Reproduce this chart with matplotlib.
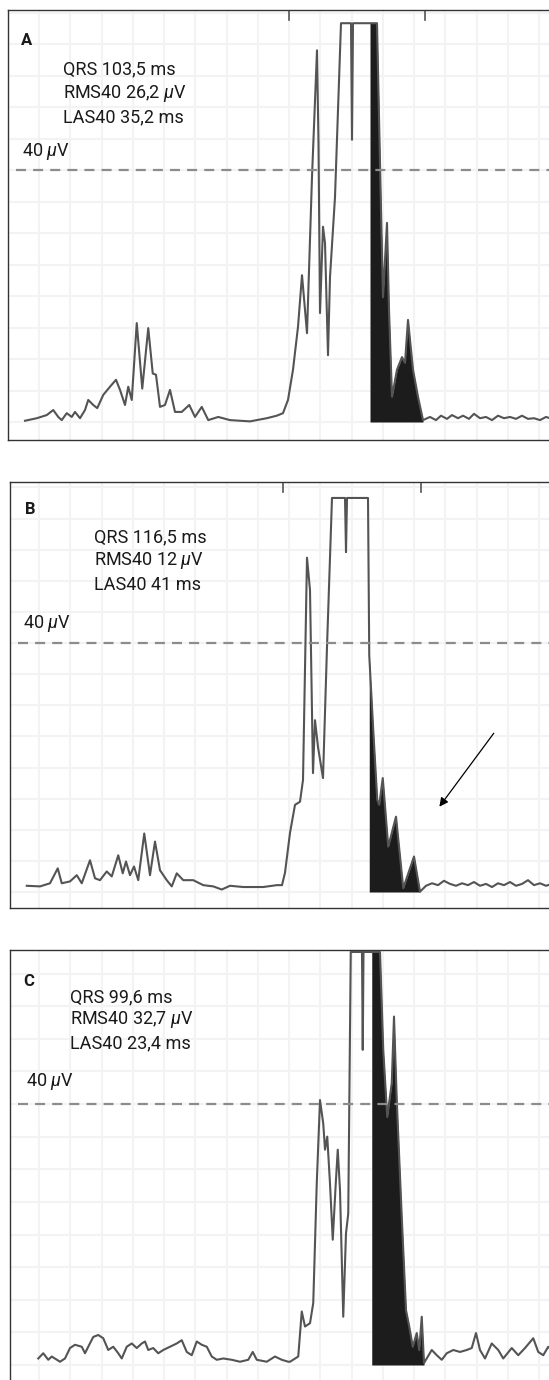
import matplotlib
matplotlib.use('Agg')
import matplotlib.pyplot as plt
import numpy as np
from matplotlib.ticker import MultipleLocator

plt.rcParams['font.family'] = ['Roboto', 'DejaVu Sans']
plt.rcParams['mathtext.fontset'] = 'custom'
plt.rcParams['mathtext.it'] = 'Roboto:italic'
plt.rcParams['mathtext.rm'] = 'Roboto'

# ---------------- data (time in ms, amplitude in microvolts) ----------------
CLIP = 63.3
THRESH = 40

a_t = [13.6, 23.0, 31.0, 36.2, 40.2, 43.0, 47.0, 51.0, 53.6, 57.6,
       61.6, 64.2, 68.2, 71.4, 76.2, 81.6, 86.4, 89.6, 93.6, 96.2,
       99.0, 103.0, 107.4, 112.2, 115.8, 118.4, 121.6, 125.6, 129.6, 133.6,
       139.0, 145.0, 149.6, 155.0, 160.2, 168.2, 177.6, 193.6, 207.0, 215.0, 220.0,
       224.0, 228.0, 232.0, 235.2, 237.6, 239.2, 243.2, 247.2, 248.4, 249.6,
       252.0, 253.6, 256.0, 257.6, 261.6, 264.0, 266.4, 274.4, 275.2, 276.0,
       295.2, 298.4, 300.0, 303.2, 304.8, 307.2, 311.2, 315.2, 317.6, 320.0,
       324.0, 328.0, 332.0,
       337.6, 342.4, 346.4, 351.2, 355.2, 360.0, 364.0, 368.8, 372.8, 377.6,
       382.4, 387.2, 392.0, 396.8, 401.6, 406.4, 411.2, 416.0, 420.8, 425.6, 430.4, 435.2]
a_v = [0.2, 0.6, 1.1, 1.9, 0.8, 0.3, 1.4, 0.8, 1.6, 0.6,
       1.9, 3.5, 2.7, 2.2, 4.3, 5.6, 6.7, 5.1, 2.7, 5.6,
       3.5, 15.7, 5.3, 14.9, 7.7, 7.5, 2.4, 2.7, 5.1, 1.6,
       1.6, 2.7, 0.8, 2.4, 0.3, 0.8, 0.3, 0.1, 0.6, 1.0, 1.4,
       3.5, 8.3, 15.1, 23.3, 17.8, 14.1, 38.9, 59.0, 44.3, 17.3,
       31.0, 28.4, 10.6, 23.0, 35.7, 49.5, 63.3, 63.3, 44.8, 63.3,
       63.3, 33.7, 19.8, 31.6, 17.8, 4.0, 8.3, 10.3, 9.4, 16.2,
       8.3, 4.0, 0.3,
       0.8, 0.3, 1.0, 0.5, 1.1, 0.6, 1.0, 0.5, 1.3, 0.6,
       0.8, 0.3, 1.0, 0.6, 0.8, 0.5, 1.0, 0.5, 0.6, 0.3, 0.8, 0.5]

b_t = [15.0, 25.6, 33.6, 39.8, 43.0, 49.6, 55.0, 59.0, 65.6, 69.6,
       73.6, 79.0, 83.0, 88.2, 91.8, 94.4, 97.6, 100.8, 104.2, 109.0,
       113.6, 117.6, 121.6, 127.0, 131.0, 135.0, 140.2, 148.2, 156.2, 164.2,
       171.0, 177.6, 188.2, 204.2, 215.0,
       219.2, 221.6, 225.6, 229.6, 233.6, 236.0, 239.2, 241.6, 244.0, 245.6,
       248.0, 252.0, 255.2, 259.2, 269.6, 270.4, 271.2, 288.0, 289.0, 292.2,
       295.4, 297.0, 299.8, 304.2, 310.4, 316.2, 324.8, 329.6,
       334.4, 339.2, 344.0, 348.8, 353.6, 358.4, 363.2, 368.0, 372.8, 377.6,
       382.4, 387.2, 392.0, 396.8, 401.6, 406.4, 411.2, 416.0, 420.8, 425.6, 430.4, 435.2]
b_v = [1.0, 0.9, 1.4, 3.8, 1.4, 1.7, 2.7, 1.4, 5.1, 2.2,
       1.9, 3.3, 2.5, 5.9, 3.0, 4.9, 2.7, 4.1, 1.9, 9.4,
       2.7, 8.1, 3.5, 1.9, 0.9, 3.0, 1.9, 1.9, 1.1, 0.9,
       0.4, 1.0, 0.8, 0.8, 1.1,
       1.1, 3.1, 9.5, 14.0, 14.5, 18.0, 53.7, 48.5, 19.1, 27.6,
       23.3, 18.3, 39.4, 63.3, 63.3, 54.6, 63.3, 63.3, 38.0, 26.0,
       14.8, 14.0, 18.3, 7.3, 12.1, 0.6, 5.7, 0.05,
       1.0, 1.4, 1.1, 1.8, 1.3, 1.0, 1.4, 1.1, 1.6, 1.0,
       1.3, 0.8, 1.4, 1.1, 1.6, 1.0, 1.3, 1.9, 1.1, 1.4, 1.0, 1.3]

c_t = [24.2, 28.2, 32.2, 35.0, 41.6, 45.6, 49.6, 53.6, 59.0, 61.6,
       64.2, 68.2, 72.2, 76.2, 80.2, 84.2, 88.2, 91.0, 95.0, 99.0,
       103.0, 107.0, 109.6, 112.2, 116.2, 120.2, 124.2, 129.6, 135.0, 139.0,
       143.0, 147.0, 151.0, 155.0, 159.0, 163.0, 167.0, 172.2, 179.0, 185.6,
       192.2, 195.8, 199.0, 207.0, 213.6, 219.0, 224.2,
       225.6, 232.2, 235.0, 237.6, 241.6, 244.2, 247.0, 249.6, 252.2, 253.6,
       255.4, 257.6, 259.8, 262.2, 263.8, 265.6, 268.2, 270.4, 272.2, 274.2,
       283.2, 283.8, 284.4, 297.6, 300.2, 303.4, 307.0, 308.8, 311.0, 315.0,
       318.4, 321.0, 323.8, 327.0, 329.0, 331.0, 332.8,
       339.0, 343.0, 347.0, 351.0, 356.2, 361.6, 367.0, 371.0, 374.4, 377.6,
       381.6, 387.0, 392.2, 396.2, 403.0, 408.2, 413.6, 420.2, 424.2, 428.2, 432.2, 437.0]
c_v = [1.0, 1.8, 0.8, 1.3, 0.5, 1.0, 2.6, 3.1, 2.8, 1.8,
       2.8, 4.3, 4.6, 4.1, 2.3, 2.8, 1.8, 1.0, 2.8, 3.3,
       2.6, 3.3, 3.6, 2.3, 2.6, 1.8, 2.3, 2.8, 3.3, 3.8,
       2.0, 1.5, 3.6, 3.1, 2.8, 1.3, 0.8, 1.0, 0.8, 0.5,
       0.8, 2.0, 0.8, 0.5, 1.3, 0.8, 0.5,
       0.5, 1.3, 8.2, 5.9, 6.4, 9.5, 27.8, 40.6, 37.0, 33.0,
       35.0, 27.8, 19.2, 27.8, 33.0, 26.8, 7.4, 20.2, 23.2, 63.3,
       63.3, 48.3, 63.3, 63.3, 48.3, 38.0, 43.2, 53.4, 40.6, 22.7,
       8.4, 5.9, 2.8, 4.9, 2.3, 7.4, 0.3,
       2.3, 1.5, 0.8, 1.8, 2.3, 2.0, 2.3, 2.6, 4.9, 2.3,
       1.0, 3.3, 2.3, 1.0, 2.6, 1.5, 2.6, 4.1, 2.0, 1.5, 2.8, 1.8]

labels = ['A', 'B', 'C']
qrs_text = ['QRS 103,5 ms', 'QRS 116,5 ms', 'QRS 99,6 ms']
rms_text = ['RMS40 26,2 $\\mathit{\\mu}$V', 'RMS40 12 $\\mathit{\\mu}$V', 'RMS40 32,7 $\\mathit{\\mu}$V']
las_text = ['LAS40 35,2 ms', 'LAS40 41 ms', 'LAS40 23,4 ms']
las_start = [289.6, 289.0, 291.0]
qrs_end = [332.0, 329.6, 332.8]
qrs_marks = [[224.8, 333.6], [220.0, 330.4], []]

# ---------------- layout (pixel boxes of the three panels) ----------------
W, H = 549, 1380
fig = plt.figure(figsize=(W / 100, H / 100), dpi=100)

panels = [
    # left, top, right, bottom (px), baseline px, px per uV
    dict(box=(8, 10, 551, 440), base=422, scale=6.3, t=a_t, v=a_v),
    dict(box=(10, 482, 551, 908), base=892, scale=6.225, t=b_t, v=b_v),
    dict(box=(10, 950, 551, 1395), base=1365, scale=6.525, t=c_t, v=c_v),
]
text_pos = [
    dict(lab=(10.4, 60.5), txt=(44.0, [55.9, 52.2, 48.4]), th=(11.2, 42.9)),
    dict(lab=(13.2, 61.5), txt=(69.2, [57.0, 53.2, 49.3]), th=(12.0, 43.1)),
    dict(lab=(12.0, 58.7), txt=(49.6, [56.4, 52.9, 49.3]), th=(14.4, 43.4)),
]

TRACE = '#545454'
FILL = '#1c1c1c'
TXT = '#1a1a1a'

for i, p in enumerate(panels):
    l, tp, r, b = p['box']
    ax = fig.add_axes([l / W, 1 - b / H, (r - l) / W, (b - tp) / H])
    ax.set_xlim((l - 8) * 0.8, (r - 8) * 0.8)
    ax.set_ylim((p['base'] - b) / p['scale'], (p['base'] - tp) / p['scale'])
    ax.xaxis.set_major_locator(MultipleLocator(25))
    ax.yaxis.set_major_locator(MultipleLocator(5))
    ax.grid(True, color='#f3f3f3', lw=1.5)
    ax.tick_params(length=0, labelbottom=False, labelleft=False)
    for s in ax.spines.values():
        s.set_color('#333333')
        s.set_linewidth(1.0)
    ax.set_axisbelow(True)

    t = np.array(p['t'])
    v = np.array(p['v'])
    # LAS40 fill
    t0, t1 = las_start[i], qrs_end[i]
    m = (t > t0) & (t <= t1)
    tf = np.concatenate([[t0], t[m]])
    vf = np.concatenate([[np.interp(t0, t, v)], v[m]])
    ax.fill_between(tf, vf, 0, color=FILL, lw=0, zorder=3)
    ax.plot(t, v, color=TRACE, lw=1.5, zorder=4, solid_joinstyle='round')

    ax.axhline(THRESH, xmin=0.015, color='#8c8c8c', lw=1.6, ls=(0, (4.5, 3.2)), zorder=5)
    for xm in qrs_marks[i]:
        ax.axvline(xm, ymin=1 - 10 / (b - tp), ymax=1, color='#555555', lw=1.2)

    tpz = text_pos[i]
    ax.text(*tpz['lab'], labels[i], fontsize=12, fontweight='bold', va='center', ha='left', color=TXT)
    for txt, yy in zip([qrs_text[i], rms_text[i], las_text[i]], tpz['txt'][1]):
        ax.text(tpz['txt'][0], yy, txt, fontsize=13, va='center', ha='left', color=TXT)
    ax.text(*tpz['th'], '40 $\\mathit{\\mu}$V', fontsize=13, va='center', ha='left', color=TXT)

    if i == 1:
        ax.annotate('', xy=(345.1, 13.7), xytext=(388.6, 25.5),
                    arrowprops=dict(arrowstyle='-|>', color='black', lw=0.9,
                                    mutation_scale=13, shrinkA=0, shrinkB=0))

fig.savefig('out.png', dpi=100)
